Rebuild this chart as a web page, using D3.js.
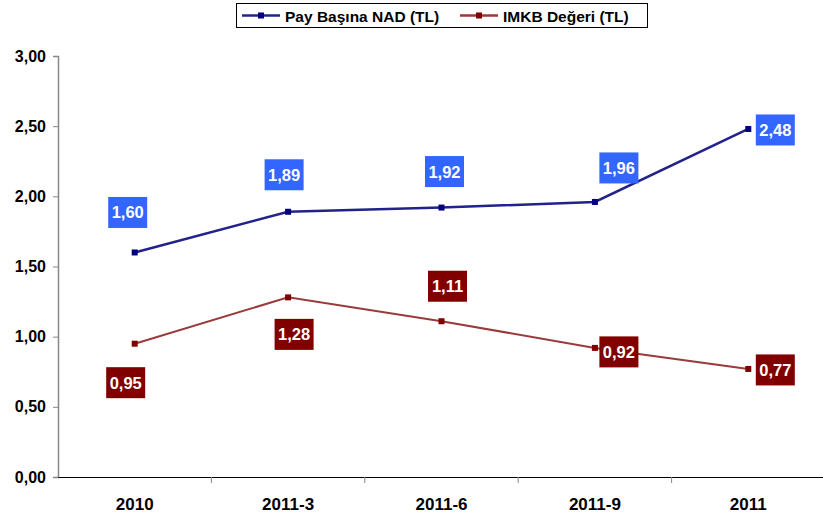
<!DOCTYPE html>
<html><head><meta charset="utf-8">
<script src="https://cdn.jsdelivr.net/npm/d3@7"></script>
<style>body{margin:0;background:#fff}svg{display:block;font-family:"Liberation Sans",Arial,sans-serif}</style>
</head><body>
<svg id="c" width="823" height="520"></svg>
<script>
const categories = ["2010","2011-3","2011-6","2011-9","2011"];
const nadValues = [1.60,1.89,1.92,1.96,2.48];
const imkbValues = [0.95,1.28,1.11,0.92,0.77];
const seriesNames = ["Pay Başına NAD (TL)","IMKB Değeri (TL)"];
const yTicks = [0,0.5,1,1.5,2,2.5,3];
// label offsets (pixels, relative to point)
const nadLabelOffsets = [[-7,-40],[-4,-37],[3,-36],[24,-34],[27,1]];
const imkbLabelOffsets = [[-9,39],[6,37],[6,-35],[24,4],[27,1]];

const svg = d3.select("#c");
const m = {l:58, r:0};
const W = 823;
const x = d3.scaleBand().domain(categories).range([m.l, W - m.r + 2]);
const y = d3.scaleLinear().domain([0,3]).range([477, 56]);
const fmt = v => d3.format(".2f")(v).replace(".", ",");

// y axis
const ya = svg.append("g").attr("transform",`translate(${m.l},0)`)
  .call(d3.axisLeft(y).tickValues(yTicks).tickFormat(fmt).tickSize(5).tickPadding(7));
ya.select(".domain").attr("stroke","#888").attr("stroke-width",1.5);
ya.selectAll(".tick line").attr("stroke","#888");
ya.selectAll("text").attr("font-size",16).attr("font-weight","bold").attr("fill","#000")
  .attr("font-family","Liberation Sans, Arial, sans-serif");

// x axis
const xa = svg.append("g").attr("transform",`translate(0,${y(0)})`)
  .call(d3.axisBottom(x).tickSize(0).tickPadding(21));
xa.select(".domain").attr("stroke","#000").attr("stroke-width",1.2);
xa.selectAll("text").attr("font-size",17).attr("font-weight","bold").attr("fill","#000")
  .attr("font-family","Liberation Sans Narrow, Arial Narrow, sans-serif");
// boundary ticks
svg.append("g").selectAll("line").data(categories.slice(1)).join("line")
  .attr("x1",d=>x(d)).attr("x2",d=>x(d)).attr("y1",y(0)).attr("y2",y(0)+6)
  .attr("stroke","#888").attr("stroke-width",1);

const cx = d => x(d) + x.bandwidth()/2;
const series = [
  {vals:nadValues, color:"#22228a", marker:"#000080", box:"#3366FF", offs:nadLabelOffsets},
  {vals:imkbValues, color:"#9a3a3a", marker:"#800000", box:"#800000", offs:imkbLabelOffsets}
];
const line = d3.line().x((d,i)=>cx(categories[i])).y(d=>y(d));
series.forEach((s,k)=>{
  svg.append("path").attr("d",line(s.vals)).attr("fill","none")
    .attr("stroke",s.color).attr("stroke-width",k===0?2.5:2);
  svg.append("g").selectAll("rect").data(s.vals).join("rect")
    .attr("x",(d,i)=>cx(categories[i])-3).attr("y",d=>y(d)-3)
    .attr("width",6).attr("height",6).attr("fill",s.marker);
  const g = svg.append("g").selectAll("g").data(s.vals).join("g")
    .attr("transform",(d,i)=>`translate(${cx(categories[i])+s.offs[i][0]},${y(d)+s.offs[i][1]})`);
  g.append("rect").attr("x",-19.5).attr("y",-15.5).attr("width",39).attr("height",31).attr("fill",s.box);
  g.append("text").attr("text-anchor","middle").attr("dy","0.36em")
    .attr("font-size",16.5).attr("font-weight","bold").attr("fill","#fff").text(d=>fmt(d));
});

// legend
const lg = svg.append("g");
lg.append("rect").attr("x",236.5).attr("y",3.5).attr("width",411).attr("height",24)
  .attr("fill","#fff").attr("stroke","#000").attr("stroke-width",1);
const items = [{x0:242, c:series[0].color, m:series[0].marker, t:seriesNames[0]},
               {x0:460, c:series[1].color, m:series[1].marker, t:seriesNames[1]}];
items.forEach(it=>{
  lg.append("line").attr("x1",it.x0).attr("x2",it.x0+38).attr("y1",15.5).attr("y2",15.5)
    .attr("stroke",it.c).attr("stroke-width",2.5);
  lg.append("rect").attr("x",it.x0+16).attr("y",12.5).attr("width",6).attr("height",6).attr("fill",it.m);
  lg.append("text").attr("x",it.x0+43).attr("y",21.5).attr("font-size",15.5).attr("font-weight","bold").text(it.t);
});
</script>
</body></html>
